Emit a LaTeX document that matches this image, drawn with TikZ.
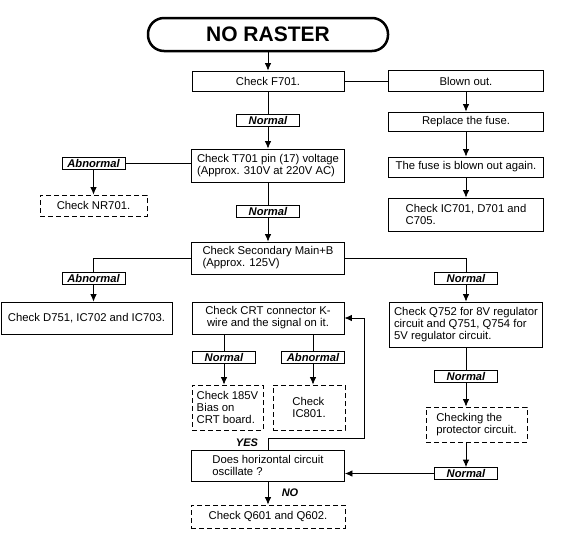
\documentclass[tikz,border=0pt]{standalone}
\usepackage{fontspec}
\setmainfont{Liberation Sans}
\usetikzlibrary{arrows.meta}
\usetikzlibrary{calc}

\tikzset{
	box/.style={draw, line width=0.8pt, align=left, inner sep=0pt, font=\fontsize{11.3}{12}\selectfont},
	dbox/.style={box, dash pattern=on 5pt off 3pt},
	tag/.style={draw, fill=white, line width=0.8pt, inner sep=0pt, minimum width=63pt, minimum height=12pt, font=\fontsize{11.2}{11}\selectfont\bfseries\itshape},
	yn/.style={inner sep=0pt, font=\fontsize{11}{11}\selectfont\bfseries\itshape}
}

\begin{document}
\begin{tikzpicture}[x=1pt, y=-1pt, >/.tip={Latex[length=7.5pt,width=6.5pt]}, line width=0.8pt]
\useasboundingbox (0,0) rectangle (572,539);
% middle column
\draw (268,34.5) node[draw, line width=2.5pt, rounded corners=16pt, minimum width=240pt, minimum height=33pt, font=\fontsize{21}{21}\selectfont\bfseries] (title) {NO RASTER};
\draw (268,81) node[box, minimum width=152pt, minimum height=20pt] (f701) {Check F701.};
\draw (268,165.5) node[box, minimum width=153pt, minimum height=33pt] (t701) {Check T701 pin (17) voltage\\(Approx. 310V at 220V AC)};
\draw (93.5,205.5) node[dbox, minimum width=107pt, minimum height=21pt] (nr701) {Check NR701.};
\draw (268,258) node[box, minimum width=153pt, minimum height=32pt] (sec) {Check Secondary Main+B\\(Approx. 125V)};
\draw (86.5,318) node[box, minimum width=171pt, minimum height=32pt] (d751) {Check D751, IC702 and IC703.};
\draw (268,318) node[box, minimum width=152pt, minimum height=32pt, align=center] (crt) {Check CRT connector K-\\wire and the signal on it.};
\draw (227.5,407.5) node[dbox, minimum width=71pt, minimum height=45pt] (b185) {Check 185V\\Bias on\\CRT board.};
\draw (309,407.5) node[dbox, minimum width=72pt, minimum height=45pt] (ic801) {Check\\IC801.};
\draw (268,465.5) node[box, minimum width=153pt, minimum height=31pt] (horiz) {Does horizontal circuit\\oscillate ?};
\draw (268,516.5) node[dbox, minimum width=154pt, minimum height=23pt] (q601) {Check Q601 and Q602.};
% right column
\draw (466,81) node[box, minimum width=155pt, minimum height=21pt] (blown) {Blown out.};
\draw (466,121.5) node[box, minimum width=155pt, minimum height=19pt] (repl) {Replace the fuse.};
\draw (466,167) node[box, minimum width=155pt, minimum height=20pt] (fuse) {The fuse is blown out again.};
\draw (466,214.5) node[box, minimum width=155pt, minimum height=33pt] (ic701) {Check IC701, D701 and\\C705.};
\draw (466,324.5) node[box, minimum width=153pt, minimum height=45pt] (q752) {Check Q752 for 8V regulator\\circuit and Q751, Q754 for\\5V regulator circuit.};
\draw (476.5,424.5) node[dbox, minimum width=101pt, minimum height=35pt] (prot) {Checking the\\protector circuit.};
% tags
\foreach \n/\x/\y/\t in {n1/268/120.5/Normal, n2/268/211/Normal, a1/93.5/163.5/Abnormal, a2/93.5/278.5/Abnormal, n3/224/357/Normal, a3/313/357/Abnormal, nr1/466/278/Normal, nr2/466/376/Normal, nr3/466/473.5/Normal} {
	\draw (\x,\y) node[tag] (\n) {\t};
}
\draw (247,443) node[yn] (yes) {YES};
\draw (290,493) node[yn] (no) {NO};
% connectors
\foreach \a/\b in {title/f701, n1/t701, n2/sec, blown/repl, repl/fuse, fuse/ic701, nr1/q752, a1/nr701, horiz/q601} {
	\draw[->] (\a) -- (\b);
}
\foreach \a/\b in {f701/n1, t701/n2, q752/nr2, f701/blown} {
	\draw (\a) -- (\b);
}
\draw (a1.east) -- (a1 -| t701.west);
\draw (sec.west) -| (a2.north);
\draw[->] (a2.south) -- (a2.south |- d751.north);
\draw (sec.east) -| (nr1.north);
\draw[->] (nr2.south) -- (nr2.south |- prot.north);
\draw[->] (prot.south -| nr3.north) -- (nr3.north);
\draw[->] (nr3.west) -- (nr3.west -| horiz.east);
\draw (crt.south -| n3) -- (n3.north);
\draw[->] (n3.south) -- (n3.south |- b185.north);
\draw (crt.south -| a3) -- (a3.north);
\draw[->] (a3.south) -- (a3.south |- ic801.north);
\coordinate (turn) at (364,438);
\draw[->] (horiz.north) |- (turn) |- (crt.east);
\end{tikzpicture}
\end{document}
